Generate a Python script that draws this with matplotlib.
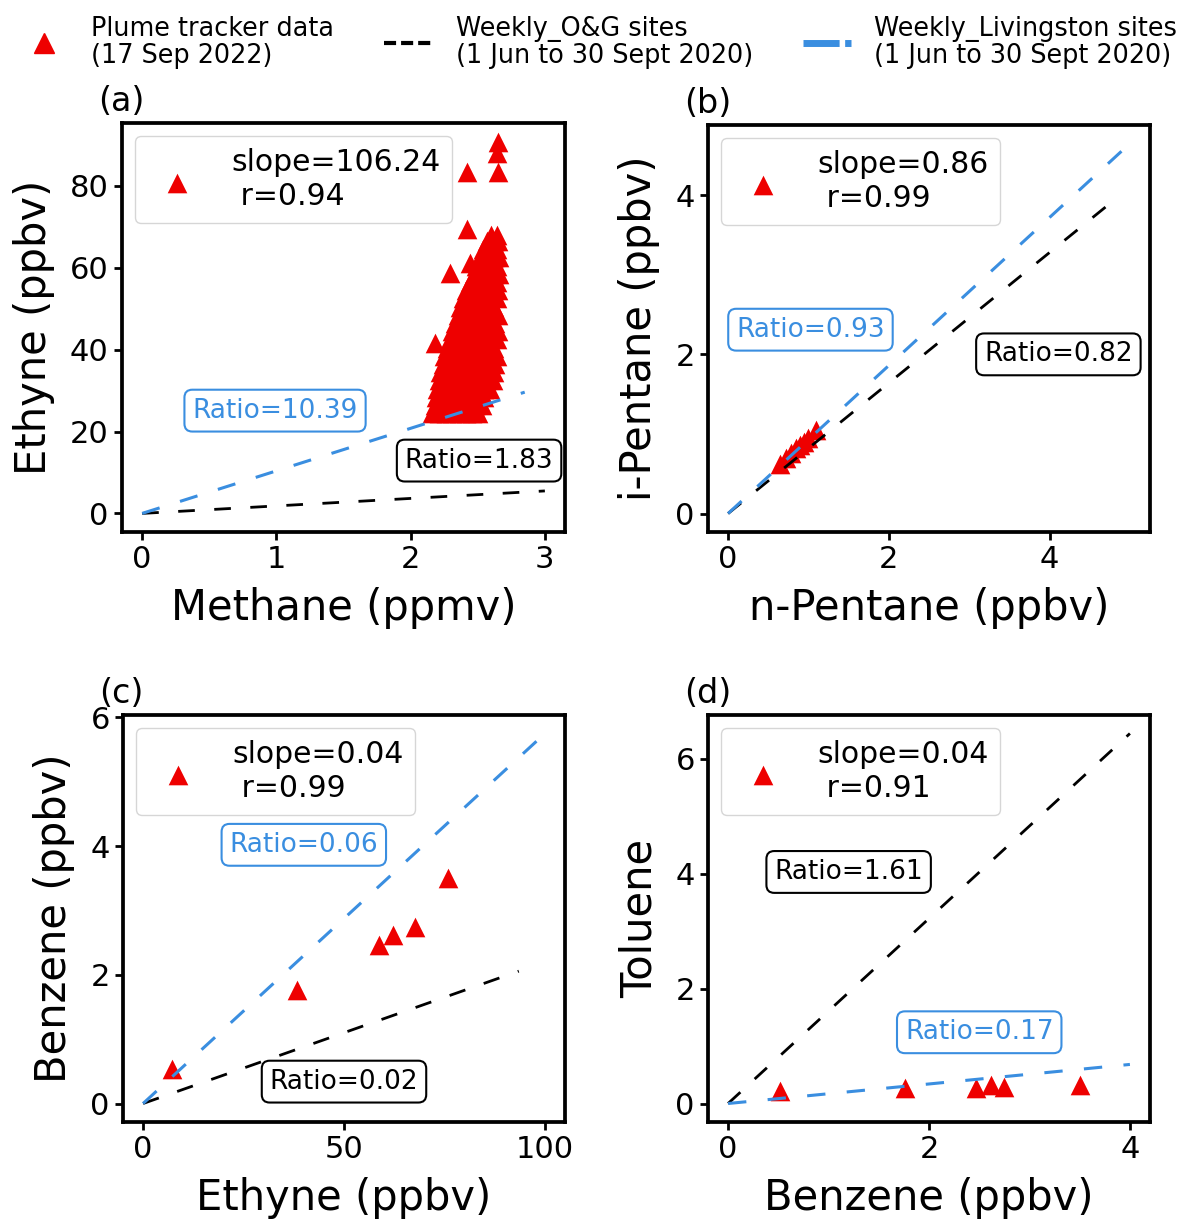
import matplotlib
matplotlib.use('Agg')
import matplotlib.pyplot as plt
from matplotlib.lines import Line2D

RED = '#ee0000'
BLUE = '#3a8ee0'
BLACK = 'black'

# ---------------- data ----------------
# (a) Methane (ppmv) vs Ethyne (ppbv), plume tracker (read row by row off the dense cloud)
a_rows = [
    (24.5, [2.16, 2.21, 2.26, 2.31, 2.36, 2.41, 2.46, 2.50]),
    (26.5, [2.18, 2.23, 2.28, 2.33, 2.38, 2.43, 2.48, 2.53]),
    (28.5, [2.19, 2.24, 2.29, 2.34, 2.39, 2.44, 2.49, 2.55]),
    (30.5, [2.20, 2.25, 2.30, 2.35, 2.40, 2.45, 2.50, 2.55, 2.59]),
    (32.5, [2.21, 2.26, 2.31, 2.36, 2.41, 2.46, 2.51, 2.56, 2.61]),
    (34.5, [2.22, 2.27, 2.32, 2.37, 2.42, 2.47, 2.52, 2.57, 2.62]),
    (36.5, [2.24, 2.29, 2.34, 2.39, 2.44, 2.49, 2.54, 2.59, 2.63]),
    (38.5, [2.25, 2.30, 2.35, 2.40, 2.45, 2.50, 2.55, 2.60, 2.64]),
    (40.5, [2.27, 2.32, 2.37, 2.42, 2.47, 2.52, 2.57, 2.62]),
    (42.5, [2.29, 2.34, 2.39, 2.44, 2.49, 2.54, 2.59, 2.64]),
    (44.5, [2.31, 2.36, 2.41, 2.46, 2.51, 2.56, 2.61, 2.65]),
    (46.5, [2.33, 2.38, 2.43, 2.48, 2.53, 2.58, 2.63]),
    (48.5, [2.35, 2.40, 2.45, 2.50, 2.55, 2.60, 2.65]),
    (50.5, [2.37, 2.42, 2.47, 2.52, 2.57, 2.62]),
    (52.5, [2.39, 2.44, 2.49, 2.54, 2.59, 2.64]),
    (54.5, [2.41, 2.46, 2.51, 2.56, 2.61, 2.65]),
    (56.5, [2.44, 2.49, 2.54, 2.59, 2.64]),
    (58.5, [2.47, 2.52, 2.57, 2.62, 2.66]),
    (60.5, [2.49, 2.54, 2.59, 2.64]),
    (62.5, [2.52, 2.57, 2.62, 2.66]),
    (64.5, [2.54, 2.59, 2.64]),
    (66.5, [2.57, 2.62, 2.65]),
    (68.0, [2.60, 2.64]),
]
a_outlier_methane = [2.65, 2.64, 2.65, 2.42, 2.42, 2.29, 2.44, 2.18]
a_outlier_ethyne = [90.8, 87.9, 83.4, 83.4, 69.4, 58.8, 61.2, 41.5]
a_methane = [x for _, row in a_rows for x in row] + a_outlier_methane
a_ethyne = [y for y, row in a_rows for _ in row] + a_outlier_ethyne

# (b) n-Pentane vs i-Pentane (ppbv)
b_npentane = [0.65, 0.72, 0.78, 0.84, 0.90, 0.95, 1.00, 1.10]
b_ipentane = [0.62, 0.70, 0.76, 0.82, 0.86, 0.90, 0.95, 1.05]

# (c) Ethyne vs Benzene (ppbv)
c_ethyne = [7.2, 38.4, 58.8, 62.2, 67.6, 75.9]
c_benzene = [0.53, 1.77, 2.47, 2.62, 2.75, 3.50]

# (d) Benzene vs Toluene
d_benzene = [0.52, 1.76, 2.47, 2.62, 2.75, 3.50]
d_toluene = [0.21, 0.27, 0.27, 0.33, 0.29, 0.33]

# weekly ratio lines: slope, x extent
og_slope = [1.83, 0.82, 0.022, 1.61]
og_xmax = [3.0, 4.79, 93.5, 4.0]
liv_slope = [10.39, 0.93, 0.0575, 0.17]
liv_xmax = [2.85, 5.0, 100.0, 4.0]

og_labels = ['Ratio=1.83', 'Ratio=0.82', 'Ratio=0.02', 'Ratio=1.61']
liv_labels = ['Ratio=10.39', 'Ratio=0.93', 'Ratio=0.06', 'Ratio=0.17']
og_label_pos = [(2.51, 12.9), (4.11, 2.0), (50, 0.34), (1.2, 4.03)]
liv_label_pos = [(0.99, 25.1), (1.025, 2.31), (40, 4.02), (2.5, 1.24)]

slope_labels = ['slope=106.24\n r=0.94', 'slope=0.86\n r=0.99',
                'slope=0.04\n r=0.99', 'slope=0.04\n r=0.91']

xlabels = ['Methane (ppmv)', 'n-Pentane (ppbv)', 'Ethyne (ppbv)', 'Benzene (ppbv)']
ylabels = ['Ethyne (ppbv)', 'i-Pentane (ppbv)', 'Benzene (ppbv)', 'Toluene']
xticks = [[0, 1, 2, 3], [0, 2, 4], [0, 50, 100], [0, 2, 4]]
yticks = [[0, 20, 40, 60, 80], [0, 2, 4], [0, 2, 4, 6], [0, 2, 4, 6]]
letters = ['(a)', '(b)', '(c)', '(d)']

xs = [a_methane, b_npentane, c_ethyne, d_benzene]
ys = [a_ethyne, b_ipentane, c_benzene, d_toluene]

# ---------------- figure ----------------
fig = plt.figure(figsize=(11.85, 12.2), dpi=100)
W, H = 1185, 1220
boxes = [(122, 123, 565, 532), (708, 125, 1150, 532),
         (123, 715, 565, 1122), (708, 715, 1150, 1122)]

DASH = (6, 7)
for i, (l, t, r, b) in enumerate(boxes):
    ax = fig.add_axes([l / W, 1 - b / H, (r - l) / W, (b - t) / H])
    ax.scatter(xs[i], ys[i], marker='^', s=200, color=RED, zorder=2,
               label=slope_labels[i], linewidths=0)
    ax.plot([0, og_xmax[i]], [0, og_slope[i] * og_xmax[i]], color=BLACK,
            lw=2, dashes=DASH, zorder=3)
    ax.plot([0, liv_xmax[i]], [0, liv_slope[i] * liv_xmax[i]], color=BLUE,
            lw=2.2, dashes=DASH, zorder=3)
    ax.text(*og_label_pos[i], og_labels[i], fontsize=19, color=BLACK,
            ha='center', va='center', zorder=4,
            bbox=dict(boxstyle='round,pad=0.3', fc='white', ec=BLACK, lw=1.5))
    ax.text(*liv_label_pos[i], liv_labels[i], fontsize=19, color=BLUE,
            ha='center', va='center', zorder=4,
            bbox=dict(boxstyle='round,pad=0.3', fc='white', ec=BLUE, lw=1.5))
    ax.legend(loc='upper left', fontsize=21.5, handletextpad=0.8,
              borderaxespad=0.45)
    ax.set_xticks(xticks[i])
    ax.set_yticks(yticks[i])
    ax.tick_params(labelsize=22, width=2, length=6)
    ax.set_xlabel(xlabels[i], fontsize=30, labelpad=9)
    ax.set_ylabel(ylabels[i], fontsize=30, labelpad=11)
    for sp in ax.spines.values():
        sp.set_linewidth(2.7)
    ax.text(-0.055, 1.012, letters[i], transform=ax.transAxes, fontsize=24,
            ha='left', va='bottom')

handles = [Line2D([], [], marker='^', color=RED, ls='none', markersize=15),
           Line2D([], [], color=BLACK, lw=3, dashes=(2.9, 1.2)),
           Line2D([], [], color=BLUE, lw=5, dashes=(5.2, 0.8))]
labels = ['Plume tracker data\n(17 Sep 2022)',
          'Weekly_O&G sites\n(1 Jun to 30 Sept 2020)',
          'Weekly_Livingston sites\n(1 Jun to 30 Sept 2020)']
leg = fig.legend(handles, labels, loc='upper center', bbox_to_anchor=(0.505, 1.006),
                 ncol=3, frameon=False, fontsize=18.4, handlelength=1.9,
                 columnspacing=1.95, handletextpad=0.9)
for t in leg.get_texts():
    t.set_linespacing(1.05)

fig.savefig('out.png', dpi=100)
